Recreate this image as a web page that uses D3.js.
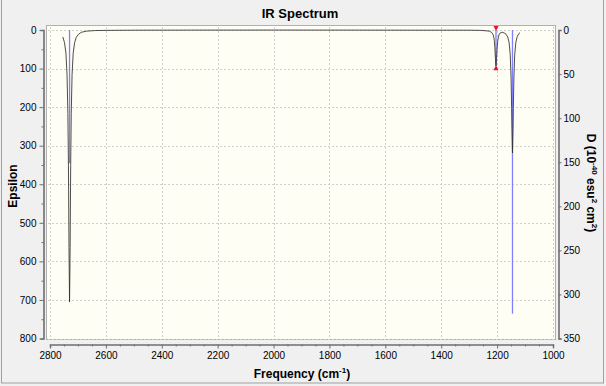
<!DOCTYPE html>
<html>
<head>
<meta charset="utf-8">
<script src="https://cdn.jsdelivr.net/npm/d3@7"></script>
<style>
  body { margin: 0; background: #f0f0f0; }
  svg { display: block; font-family: "Liberation Sans", Arial, sans-serif; }
</style>
</head>
<body>
<svg id="chart" width="606" height="386"></svg>
<script>
// spectrum curve (frequency in cm-1, epsilon)
var curveFreq = [2754, 2748, 2743, 2739, 2736, 2734, 2732, 2730, 2728, 2726, 2724, 2721, 2717, 2712, 2706, 2698, 2688, 2670, 2640, 2600, 2500, 2300, 2000, 1700, 1500,
  1300, 1260, 1240, 1228, 1220, 1215, 1212, 1210, 1208, 1206, 1204, 1202, 1200, 1198, 1195, 1191, 1186, 1180, 1174, 1168, 1162, 1157,
  1153, 1150, 1148, 1147, 1145, 1143, 1142, 1140, 1137, 1133, 1128, 1123, 1118];
var curveEps = [18, 33, 60, 116, 216, 352, 564, 705, 564, 352, 216, 116, 60, 33, 19, 11, 6, 3, 1.5, 1, 0.5, 0.3, 0.2, 0.3, 0.5,
  0.5, 1, 2, 3, 6, 11, 18, 28, 46, 74, 93, 74, 47, 30, 16, 9, 7, 6, 8, 11, 18, 33,
  64, 125, 204, 255, 319, 255, 204, 125, 64, 32, 17, 10, 7];

// sticks (dipole strength, right axis)
var stickFreq = [2730, 1204, 1145];
var stickD = [151, 41, 322];
var selectedStick = 1;

var xTickValues = [2800, 2600, 2400, 2200, 2000, 1800, 1600, 1400, 1200, 1000];
var epsTickValues = [0, 100, 200, 300, 400, 500, 600, 700, 800];
var dTickValues = [0, 50, 100, 150, 200, 250, 300, 350];

var svg = d3.select('#chart');

// window frame
svg.append('rect')
  .attr('x', 1.5).attr('y', -2)
  .attr('width', 602).attr('height', 385)
  .attr('fill', '#f0f0f0')
  .attr('stroke', '#a0a0a0');

var x = d3.scaleLinear().domain([2800, 1000]).range([50, 553]);
var yEps = d3.scaleLinear().domain([0, 800]).range([30, 338.5]);
var yD = d3.scaleLinear().domain([0, 350]).range([30, 338.5]);

// plot area
svg.append('rect')
  .attr('x', 46.5).attr('y', 25.5)
  .attr('width', 509).attr('height', 314)
  .attr('fill', '#fefef4')
  .attr('stroke', '#b0b0b0');

// grid
svg.append('g').selectAll('line')
  .data(xTickValues)
  .enter().append('line')
  .attr('x1', d => Math.round(x(d)) + 0.5).attr('x2', d => Math.round(x(d)) + 0.5)
  .attr('y1', 27).attr('y2', 338)
  .attr('stroke', '#cfcfcf')
  .attr('stroke-dasharray', '2,2');

svg.append('g').selectAll('line')
  .data(epsTickValues)
  .enter().append('line')
  .attr('x1', 48).attr('x2', 554)
  .attr('y1', d => Math.round(yEps(d)) + 0.5).attr('y2', d => Math.round(yEps(d)) + 0.5)
  .attr('stroke', '#cfcfcf')
  .attr('stroke-dasharray', '2,2');

// axes
var axisColor = '#6e6e6e';
var left = svg.append('g').attr('transform', 'translate(43.5,0)')
  .call(d3.axisLeft(yEps).tickValues(d3.range(0, 801, 50)).tickSize(3)
    .tickFormat(d => epsTickValues.indexOf(d) >= 0 ? d : ''));
var right = svg.append('g').attr('transform', 'translate(558.5,0)')
  .call(d3.axisRight(yD).tickValues(dTickValues).tickSize(3));
var bottom = svg.append('g').attr('transform', 'translate(0,344.5)')
  .call(d3.axisBottom(x).tickValues(d3.range(2800, 999, -50)).tickSize(3)
    .tickFormat(d => xTickValues.indexOf(d) >= 0 ? d : ''));

[left, right, bottom].forEach(function (g) {
  g.select('.domain').attr('stroke', axisColor).attr('stroke-width', 1.6);
  g.selectAll('.tick line').attr('stroke', axisColor);
  g.selectAll('.tick text').attr('fill', '#000').style('font-size', '10px')
    .style('font-family', '"Liberation Sans", Arial, sans-serif');
});
// longer major ticks, shorter minor ticks
left.selectAll('.tick line').attr('x2', d => epsTickValues.indexOf(d) >= 0 ? -4 : -2);
left.selectAll('.tick text').attr('x', -7);
bottom.selectAll('.tick line').attr('y2', d => xTickValues.indexOf(d) >= 0 ? 4 : 2);
bottom.selectAll('.tick text').attr('y', 7);
right.selectAll('.tick line').attr('x2', 3);
right.selectAll('.tick text').attr('x', 5);

// sticks
svg.append('g').selectAll('line')
  .data(stickFreq)
  .enter().append('line')
  .attr('x1', d => x(d)).attr('x2', d => x(d))
  .attr('y1', yD(0))
  .attr('y2', (d, i) => yD(stickD[i]))
  .attr('stroke', '#8080ff')
  .attr('stroke-width', 1.3);

// spectrum
var line = d3.line()
  .x(d => x(d[0]))
  .y(d => yEps(d[1]));
svg.append('path')
  .datum(curveFreq.map((f, i) => [f, curveEps[i]]))
  .attr('d', line)
  .attr('fill', 'none')
  .attr('stroke', '#2e2e2e')
  .attr('stroke-opacity', 0.85)
  .attr('stroke-width', 1);

// selected peak markers
var sx = x(stickFreq[selectedStick]);
var sy = yD(stickD[selectedStick]);
svg.append('path')
  .attr('d', 'M' + (sx - 2.5) + ',' + (yD(0) - 4) + 'L' + (sx + 2.5) + ',' + (yD(0) - 4) + 'L' + sx + ',' + (yD(0) + 1) + 'Z')
  .attr('fill', '#e8141e');
svg.append('path')
  .attr('d', 'M' + (sx - 2.5) + ',' + (sy + 4) + 'L' + (sx + 2.5) + ',' + (sy + 4) + 'L' + sx + ',' + (sy - 1) + 'Z')
  .attr('fill', '#e8141e');

// titles
svg.append('text')
  .attr('x', 300).attr('y', 18)
  .attr('text-anchor', 'middle')
  .style('font-size', '13px').style('font-weight', 'bold')
  .text('IR Spectrum');

svg.append('text')
  .attr('transform', 'translate(17,186) rotate(-90)')
  .attr('text-anchor', 'middle')
  .style('font-size', '12px').style('font-weight', 'bold')
  .text('Epsilon');

var xt = svg.append('text')
  .attr('x', 302).attr('y', 378)
  .attr('text-anchor', 'middle')
  .style('font-size', '12px').style('font-weight', 'bold');
xt.append('tspan').text('Frequency (cm');
xt.append('tspan').attr('dy', -5).style('font-size', '8px').text('-1');
xt.append('tspan').attr('dy', 5).text(')');

var rt = svg.append('text')
  .attr('transform', 'translate(587,183) rotate(90)')
  .attr('text-anchor', 'middle')
  .style('font-size', '12px').style('font-weight', 'bold');
rt.append('tspan').text('D (10');
rt.append('tspan').attr('dy', -5).style('font-size', '8px').text('-40');
rt.append('tspan').attr('dy', 5).text(' esu');
rt.append('tspan').attr('dy', -5).style('font-size', '8px').text('2');
rt.append('tspan').attr('dy', 5).text(' cm');
rt.append('tspan').attr('dy', -5).style('font-size', '8px').text('2');
rt.append('tspan').attr('dy', 5).text(')');
</script>
</body>
</html>
